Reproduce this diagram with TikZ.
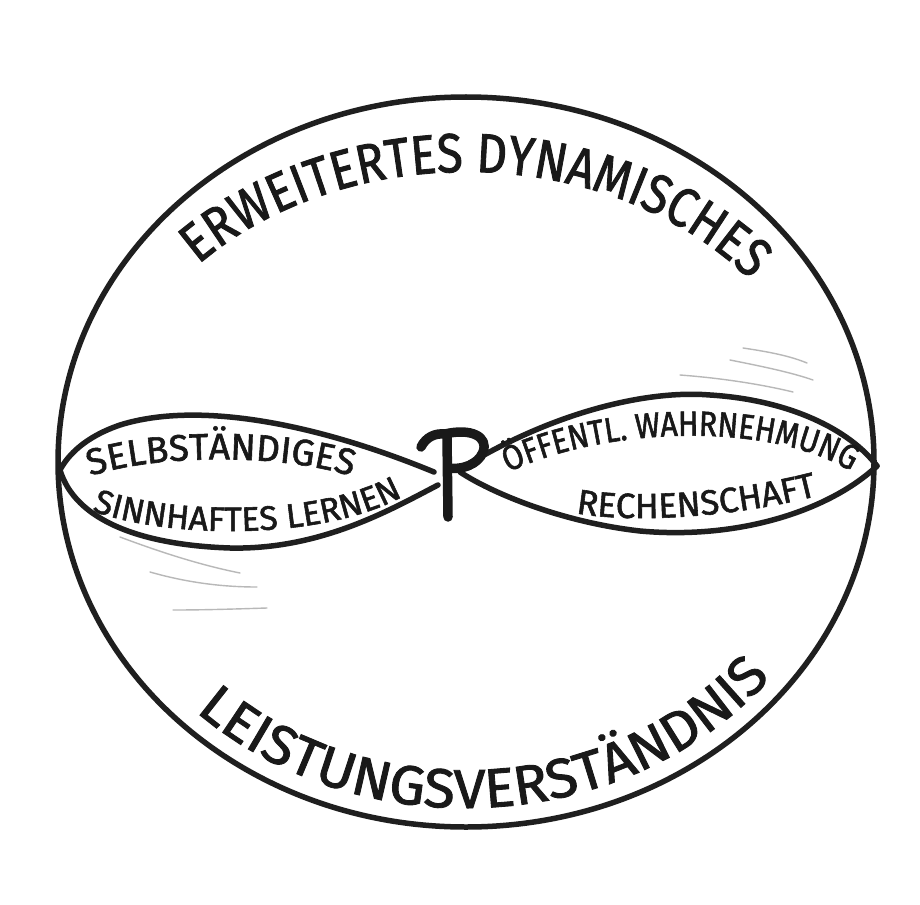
\documentclass[tikz,border=0pt]{standalone}
\usepackage{fontspec}
\setmainfont{Fira Sans}
\newfontfamily\handN[FakeStretch=0.86,FakeBold=1.6]{Fira Sans}
\newfontfamily\handW[FakeBold=1.6]{Fira Sans}
\newfontfamily\handX[FakeStretch=1.04,FakeBold=1.6]{Fira Sans}
\usetikzlibrary{decorations.text}
\newcommand\topfnt{\handN\fontsize{55pt}{60pt}\selectfont\color{black!90}}
\newcommand\botfnt{\handX\fontsize{55pt}{60pt}\selectfont\color{black!90}}
\newcommand\lefta{\handW\fontsize{37pt}{40pt}\selectfont\color{black!90}}
\newcommand\leftb{\handW\fontsize{34pt}{40pt}\selectfont\color{black!90}}
\newcommand\righta{\handN\fontsize{35pt}{40pt}\selectfont\color{black!90}}
\newcommand\rightb{\handW\fontsize{35pt}{40pt}\selectfont\color{black!90}}
\begin{document}
\begin{tikzpicture}[x=1pt,y=-1pt,
  ink/.style={draw=black!88, line width=5.5pt, line cap=round, line join=round},
  pen/.style={draw=black!90, line width=9.5pt, line cap=round, line join=round},
  smudge/.style={draw=black!28, line width=1.4pt, line cap=round}]
\fill[white] (0,0) rectangle (920,904);
\useasboundingbox (0,0) rectangle (920,904);

% outer circle
\draw[ink] (466,462) ellipse [x radius=408pt, y radius=365pt];

% lemniscate: left lobe
\draw[ink] (434,472) .. controls (320,425) and (200,400) .. (120,425)
  .. controls (85,437) and (68,455) .. (60,470);
\draw[ink] (60,470) .. controls (75,520) and (140,545) .. (230,548)
  .. controls (320,550) and (390,510) .. (438,485);
% right lobe
\draw[ink] (470,463) .. controls (560,410) and (650,390) .. (710,395)
  .. controls (790,400) and (850,430) .. (877,466);
\draw[ink] (460,472) .. controls (490,492) and (560,522) .. (640,531)
  .. controls (740,540) and (830,510) .. (877,466);

% central P
\draw[pen] (421,447) .. controls (426,437) and (435,433) .. (445,434);
\draw[pen] (447,437) -- (448,517);
\draw[pen] (445,434) .. controls (470,428) and (489,436) .. (483,452)
  .. controls (478,465) and (461,470) .. (449,468);

% pencil smudges
\draw[smudge] (743,348) .. controls (770,352) and (790,356) .. (807,363);
\draw[smudge] (730,360) .. controls (760,366) and (790,372) .. (813,380);
\draw[smudge] (680,375) .. controls (720,378) and (760,384) .. (793,392);
\draw[smudge] (120,537) .. controls (160,552) and (200,565) .. (240,573);
\draw[smudge] (150,572) .. controls (185,582) and (220,587) .. (257,587);
\draw[smudge] (173,610) .. controls (205,610) and (235,609) .. (267,608);

% texts along paths
\path[decorate, decoration={text along path, text align=center,
  text={|\topfnt|ERWEITERTES DYNAMISCHES}}]
  (466,462) ++(160:365pt and 290pt)
  arc[start angle=160, end angle=15.6, x radius=365pt, y radius=290pt];
\path[decorate, decoration={text along path, text align=center,
  text={|\botfnt|LEISTUNGSVERSTÄNDNIS}}]
  (466,462) ++(190:390pt and 346pt)
  arc[start angle=190, end angle=358, x radius=390pt, y radius=346pt];
\path[decorate, decoration={text along path, text align=center,
  text={|\lefta|SELBSTÄNDIGES}}]
  (80,480) .. controls (145,453) and (290,452) .. (362,480);
\path[decorate, decoration={text along path, text align=center,
  text={|\leftb|SINNHAFTES LERNEN}}]
  (84,508) .. controls (170,542) and (335,540) .. (410,492);
\path[decorate, decoration={text along path, text align=center,
  text={|\righta|ÖFFENTL. WAHRNEHMUNG}}]
  (485,485) .. controls (582,424) and (792,414) .. (872,487);
\path[decorate, decoration={text along path, text align=center,
  text={|\rightb|RECHENSCHAFT}}]
  (565,511) .. controls (630,526) and (745,516) .. (828,493);
\end{tikzpicture}
\end{document}
